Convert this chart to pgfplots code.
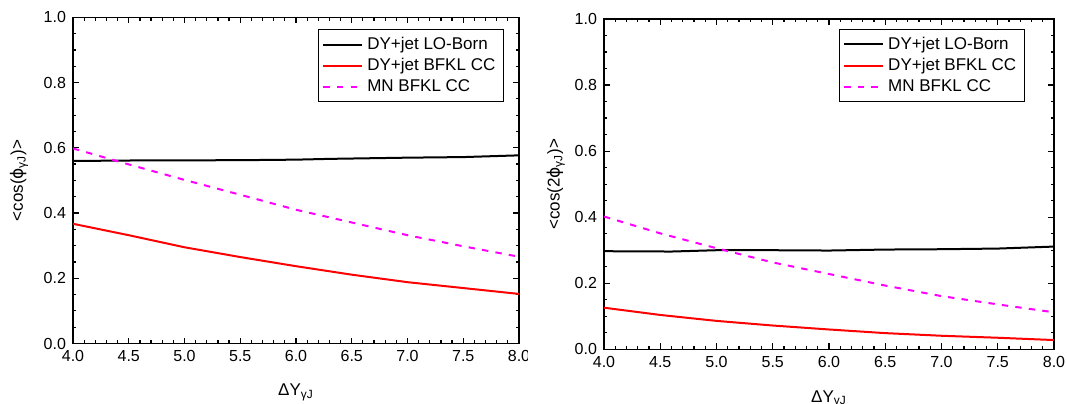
\documentclass[border=0pt]{standalone}
\usepackage{fontspec}
\setmainfont{Liberation Sans}
\newfontfamily\dejavu{DejaVu Sans}
\usepackage{pgfplots}
\pgfplotsset{compat=1.18}
\definecolor{mag}{RGB}{255,0,255}
\definecolor{rd}{RGB}{255,0,0}
\pgfplotsset{
 myax/.style={
  scale only axis,
  xmin=4, xmax=8, ymin=0, ymax=1,
  xtick={4,4.5,5,5.5,6,6.5,7,7.5,8},
  ytick={0,0.2,0.4,0.6,0.8,1.0},
  minor x tick num=4, minor y tick num=3,
  tick align=inside,
  major tick length=3pt, minor tick length=1.6pt,
  axis line style={line width=0.75pt},
  every tick/.style={black, line width=0.6pt},
  /pgf/number format/assume math mode=true,
  xticklabel style={font=\fontsize{8}{9}\selectfont, /pgf/number format/.cd, fixed, fixed zerofill, precision=1},
  yticklabel style={font=\fontsize{8}{9}\selectfont, /pgf/number format/.cd, fixed, fixed zerofill, precision=1},
  label style={font=\fontsize{8.5}{10}\selectfont},
  legend style={draw=black, line width=0.5pt, font=\fontsize{8.5}{10}\selectfont,
    inner xsep=2pt, inner ysep=1.5pt, row sep=-1pt},
  legend cell align=left,
  legend image code/.code={\draw[#1] (0pt,0pt) -- (19.5pt,0pt);},
 }
}
\begin{document}
\begin{tikzpicture}
\path[use as bounding box] (0,0) rectangle (533.5pt,201.5pt);
\begin{axis}[myax, at={(36.5pt,29.75pt)}, anchor=south west,
  width=223pt, height=163.1pt,
  xlabel={ΔY\textsubscript{γJ}},
  ylabel={<cos({\dejavu ϕ}\textsubscript{γJ})>},
  xlabel style={at={(axis description cs:0.5,-0.149)}, anchor=center},
  ylabel style={at={(axis description cs:-0.121,0.5)}, anchor=center, rotate=0},
  legend style={at={(0.966,0.963)}, anchor=north east},
]
\addplot[black, line width=1pt] coordinates {
(4.0,0.5595) (4.5,0.5610) (5.0,0.5615) (5.5,0.5620) (6.0,0.5636) (6.3,0.5660) (7.0,0.5697) (7.5,0.5715) (8.0,0.5768)};
\addlegendentry{DY+jet LO-Born}
\addplot[rd, line width=1pt] coordinates {
(4.0,0.367) (4.5,0.332) (5.0,0.295) (5.5,0.265) (6.0,0.237) (6.5,0.211) (7.0,0.188) (7.5,0.170) (8.0,0.152)};
\addlegendentry{DY+jet BFKL CC}
\addplot[mag, line width=1pt, dash pattern=on 3.2pt off 3.6pt] coordinates {
(4.0,0.598) (4.5,0.549) (5.0,0.5015) (5.5,0.456) (6.0,0.410) (6.5,0.371) (7.0,0.332) (7.5,0.298) (8.0,0.266)};
\addlegendentry{MN BFKL CC}
\end{axis}
\fill[white] (264pt,15pt) rectangle (270pt,28pt);
\begin{axis}[myax, at={(302pt,26.85pt)}, anchor=south west,
  width=225pt, height=165.15pt,
  xlabel={ΔY\textsubscript{γJ}},
  ylabel={<cos(2{\dejavu ϕ}\textsubscript{γJ})>},
  xlabel style={at={(axis description cs:0.5,-0.15)}, anchor=center},
  ylabel style={at={(axis description cs:-0.107,0.5)}, anchor=center, rotate=0},
  legend style={at={(0.935,0.969)}, anchor=north east},
]
\addplot[black, line width=1pt] coordinates {
(4.0,0.297) (4.6,0.296) (5.0,0.300) (5.5,0.300) (6.0,0.299) (6.5,0.302) (7.0,0.303) (7.5,0.305) (8.0,0.311)};
\addlegendentry{DY+jet LO-Born}
\addplot[rd, line width=1pt] coordinates {
(4.0,0.126) (4.5,0.104) (5.0,0.086) (5.5,0.072) (6.0,0.060) (6.5,0.049) (7.0,0.041) (7.5,0.035) (8.0,0.028)};
\addlegendentry{DY+jet BFKL CC}
\addplot[mag, line width=1pt, dash pattern=on 3.2pt off 3.6pt] coordinates {
(4.0,0.402) (4.5,0.351) (5.0,0.306) (5.5,0.263) (6.0,0.228) (6.5,0.193) (7.0,0.161) (7.5,0.136) (8.0,0.112)};
\addlegendentry{MN BFKL CC}
\end{axis}
\end{tikzpicture}
\end{document}
